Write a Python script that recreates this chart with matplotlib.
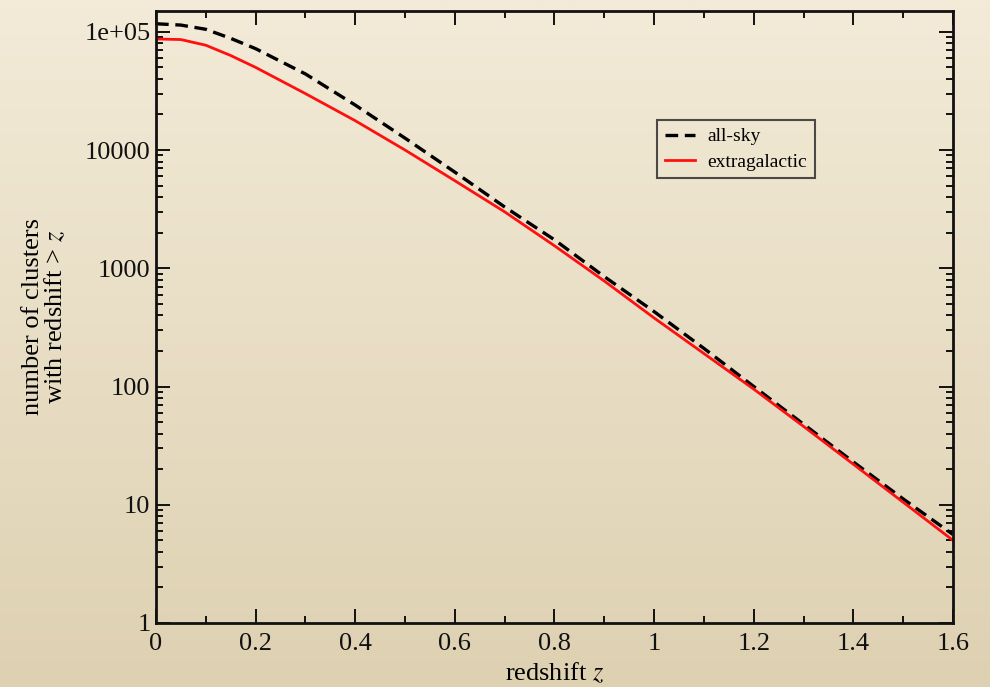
import numpy as np
import matplotlib
matplotlib.use("Agg")
import matplotlib.pyplot as plt
from matplotlib.ticker import FixedLocator, LogLocator, NullFormatter, MultipleLocator

# values
redshift = [0.0, 0.05, 0.1, 0.15, 0.2, 0.3, 0.4, 0.5, 0.6, 0.7, 0.8,
            0.9, 1.0, 1.1, 1.2, 1.3, 1.4, 1.5, 1.6]
all_sky = [117000, 114000, 105000, 88000, 72000, 44000, 24000, 12600, 6500,
           3300, 1740, 850, 430, 210, 100, 48, 23, 11.2, 5.6]
extragalactic = [87000, 86000, 77000, 63000, 50000, 30000, 17700, 10000, 5500,
                 3000, 1550, 780, 380, 190, 95, 46, 22, 10.5, 5.0]

ytick_vals = [1, 10, 100, 1000, 10000, 100000]
ytick_labels = ["1", "10", "100", "1000", "10000", "1e+05"]
xtick_vals = [0, 0.2, 0.4, 0.6, 0.8, 1, 1.2, 1.4, 1.6]
xtick_labels = ["0", "0.2", "0.4", "0.6", "0.8", "1", "1.2", "1.4", "1.6"]

plt.rcParams['font.family'] = ['Liberation Serif', 'DejaVu Serif']
plt.rcParams['mathtext.fontset'] = 'stix'

fig = plt.figure(figsize=(9.9, 6.87), dpi=100)

# beige gradient background
bg = fig.add_axes([0, 0, 1, 1], zorder=-10)
grad = np.linspace(0, 1, 256).reshape(-1, 1)
top = np.array([243, 235, 216]) / 255.0
bot = np.array([222, 209, 178]) / 255.0
img = top[None, None, :] * (1 - grad[:, :, None]) + bot[None, None, :] * grad[:, :, None]
bg.imshow(img, aspect='auto', extent=[0, 1, 0, 1])
bg.axis('off')

ax = fig.add_axes([0.1576, 0.0932, 0.805, 0.8908])
ax.patch.set_alpha(0)

ax.plot(redshift, all_sky, color='black', lw=2.4, ls=(0, (3.8, 2.0)), label='all-sky')
ax.plot(redshift, extragalactic, color='#ff1010', lw=2.0, label='extragalactic')

ax.set_yscale('log')
ax.set_xlim(0, 1.6)
ax.set_ylim(1, 1.5e5)

ax.yaxis.set_major_locator(FixedLocator(ytick_vals))
ax.set_yticklabels(ytick_labels)
ax.yaxis.set_minor_locator(LogLocator(base=10, subs=np.arange(2, 10)))
ax.yaxis.set_minor_formatter(NullFormatter())
ax.set_xticks(xtick_vals)
ax.set_xticklabels(xtick_labels)
ax.xaxis.set_minor_locator(MultipleLocator(0.1))

ax.tick_params(which='both', direction='in', top=True, right=True,
               labelsize=19, colors='#111111')
ax.tick_params(which='major', length=10, width=1.4)
ax.tick_params(axis='x', which='major', pad=7)
ax.tick_params(axis='y', which='major', pad=4)
ax.tick_params(which='minor', length=5, width=1.4)
for s in ax.spines.values():
    s.set_linewidth(2.0)
    s.set_color('#111111')

ax.set_xlabel('redshift $z$', fontsize=19, labelpad=4)
ax.set_ylabel('number of clusters\nwith redshift > $z$', fontsize=19,
              linespacing=0.95, labelpad=12)

leg = ax.legend(loc='upper left', bbox_to_anchor=(0.6286, 0.822), borderaxespad=0,
                fontsize=14, frameon=True, fancybox=False, handlelength=1.55,
                handletextpad=0.65, borderpad=0.4, labelspacing=0.4)
leg.get_frame().set_edgecolor('#222222')
leg.get_frame().set_linewidth(1.5)
leg.get_frame().set_facecolor('none')

fig.savefig('out.png', dpi=100)
